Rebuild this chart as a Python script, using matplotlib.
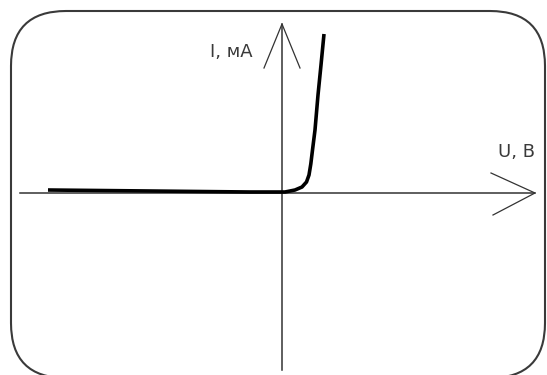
import matplotlib
matplotlib.use('Agg')
import matplotlib.pyplot as plt
from matplotlib.patches import FancyBboxPatch

# Вольт-амперная характеристика диода (эскиз)
U = [-2.34, -1.32, -0.32, 0.03, 0.13, 0.20, 0.245, 0.27, 0.288, 0.305, 0.33, 0.36, 0.39, 0.42]
I = [0.03, 0.02, 0.01, 0.01, 0.03, 0.06, 0.11, 0.18, 0.29, 0.43, 0.63, 0.98, 1.28, 1.59]

label_u = 'U, В'
label_i = 'I, мА'

fig = plt.figure(figsize=(5.47, 3.75), dpi=100)
ax = fig.add_axes([0, 0, 1, 1])
ax.set_xlim(-2.82, 2.65)
ax.set_ylim(-1.82, 1.93)
ax.axis('off')

# Рамка со скруглёнными углами
frame = FancyBboxPatch((-2.71, -1.85), 5.34, 3.67,
                       boxstyle='round,pad=0,rounding_size=0.55',
                       fill=False, edgecolor='#3a3a3a', linewidth=1.5)
ax.add_patch(frame)

# Оси
ax.plot([-2.62, 2.53], [0, 0], color='#333333', lw=1.1)
ax.plot([0, 0], [-1.77, 1.69], color='#333333', lw=1.1)
# Стрелки
ax.plot([2.09, 2.53, 2.11], [0.20, 0, -0.22], color='#333333', lw=0.9)
ax.plot([-0.18, 0, 0.18], [1.25, 1.69, 1.25], color='#333333', lw=0.9)

# Характеристика
ax.plot(U, I, color='black', lw=2.6, solid_capstyle='butt', solid_joinstyle='round')

ax.text(-0.51, 1.41, label_i, ha='center', va='center', fontsize=13,
        family='DejaVu Sans', color='#3a3a3a')
ax.text(2.34, 0.41, label_u, ha='center', va='center', fontsize=13,
        family='DejaVu Sans', color='#3a3a3a')

fig.savefig('out.png', dpi=100)
